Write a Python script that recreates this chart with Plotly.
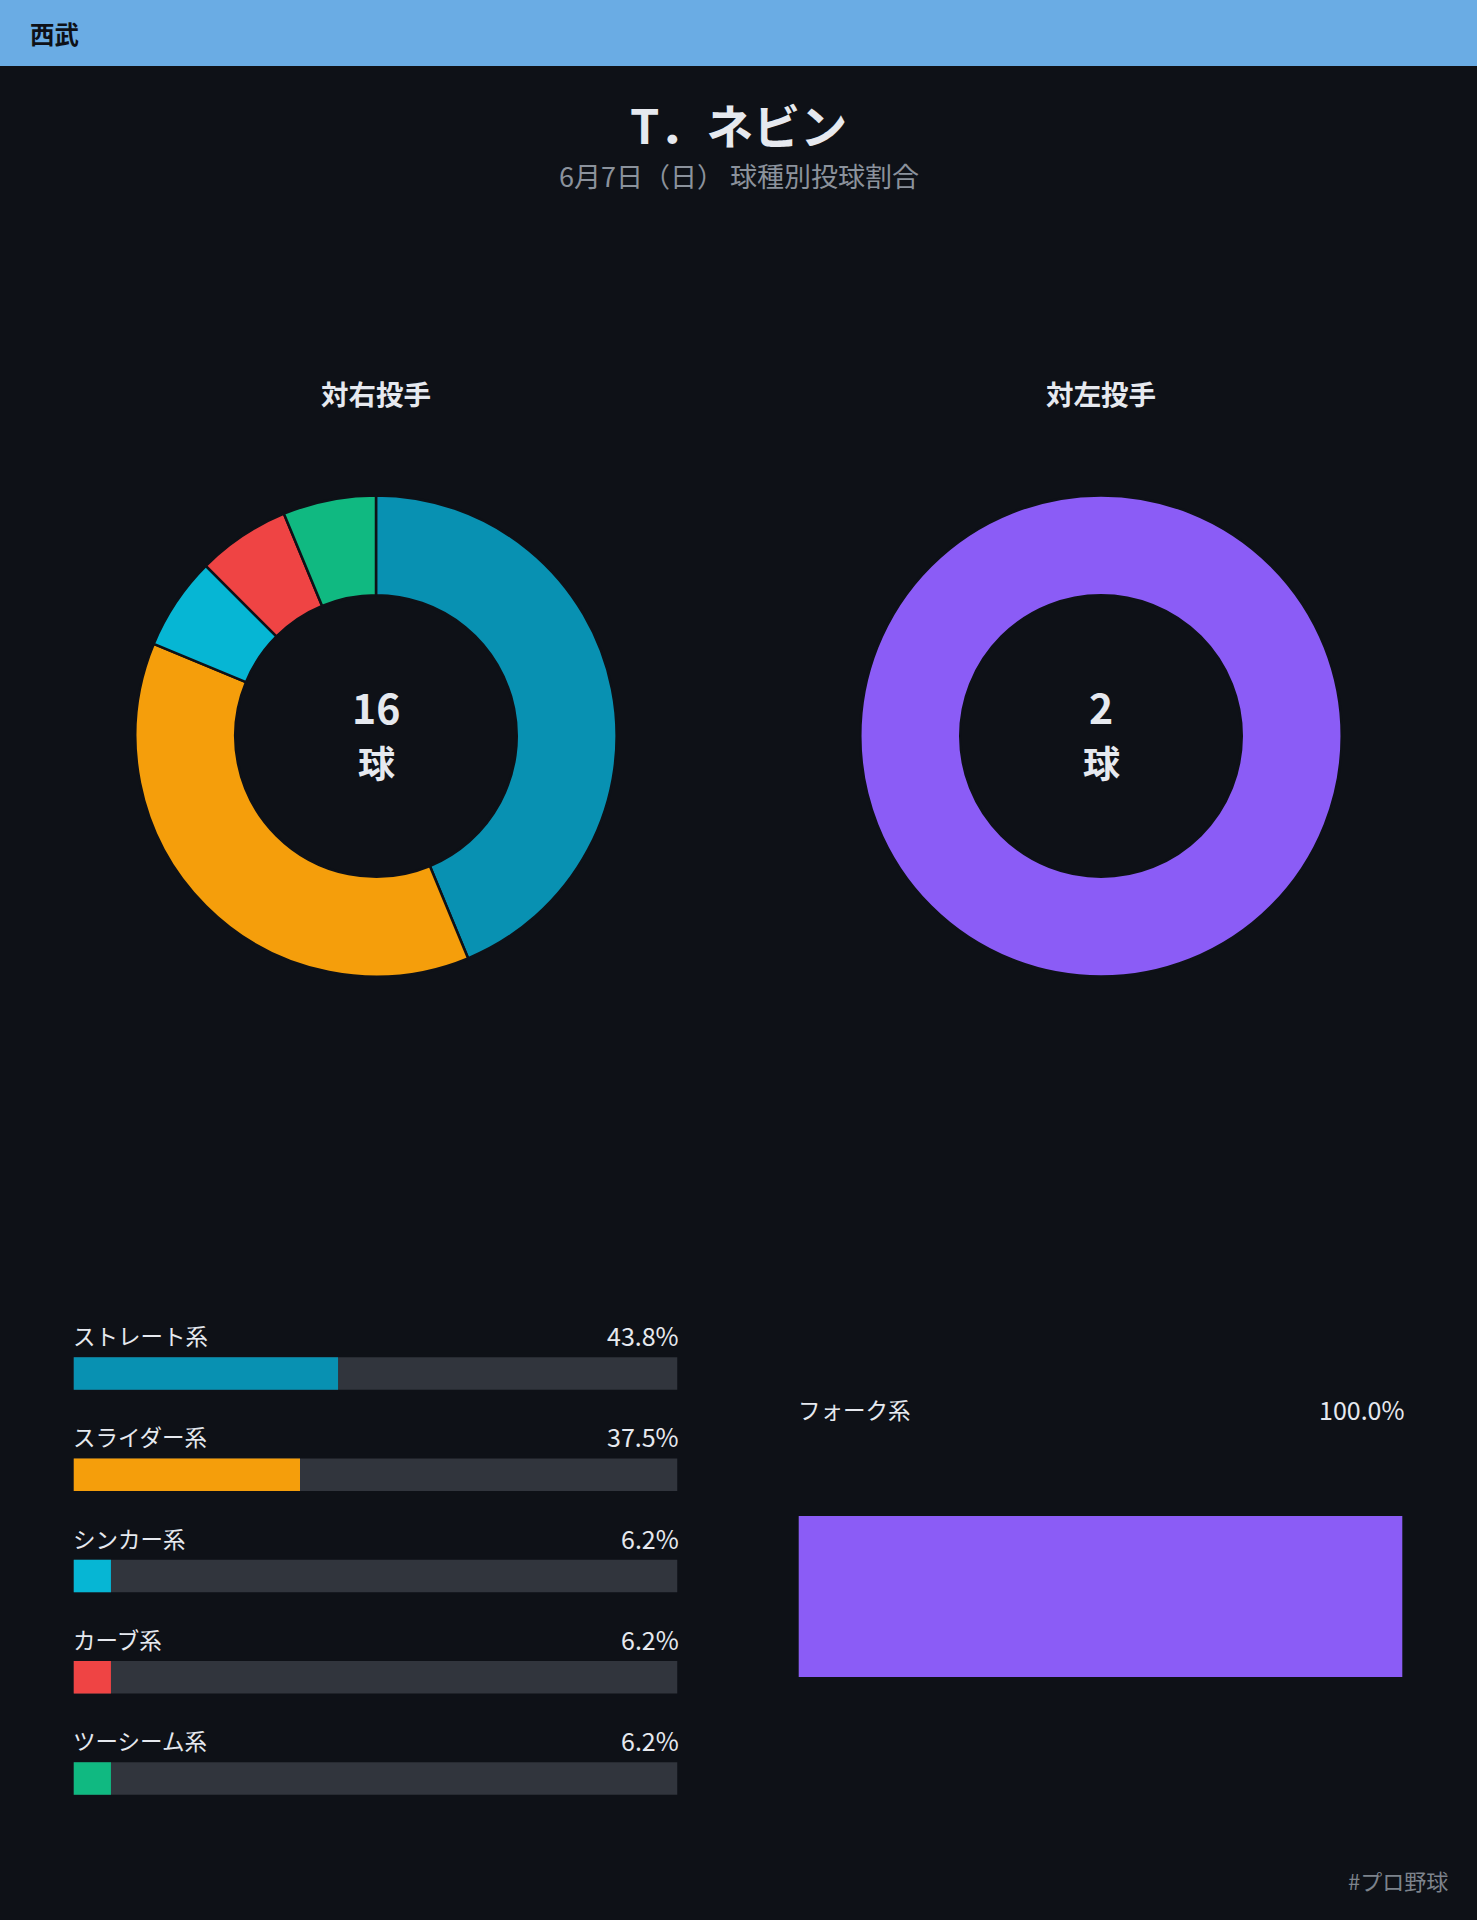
import plotly.graph_objects as go

W, H = 1477, 1920
BG = "#0e1117"
HEADER = "#6aace4"
TEXT = "#e6e9ef"
SUB = "#8b929c"
TRACK = "#31353d"
FONT = "Noto Sans CJK JP"

team = "西武"
player = "T．ネビン"
subtitle = "6月7日（日） 球種別投球割合"
footer = "#プロ野球"

right_title = "対右投手"
right_types = ["ストレート系", "スライダー系", "シンカー系", "カーブ系", "ツーシーム系"]
right_counts = [7, 6, 1, 1, 1]
right_pct = [43.8, 37.5, 6.2, 6.2, 6.2]
right_colors = ["#0891b2", "#f59e0b", "#06b6d4", "#ef4444", "#10b981"]

left_title = "対左投手"
left_types = ["フォーク系"]
left_counts = [2]
left_pct = [100.0]
left_colors = ["#8b5cf6"]


def px_y(py):
    return 1 - py / H


def px_x(px):
    return px / W


fig = go.Figure()

# Donuts
R = 240.6
for cx, labels, vals, cols in [(376, right_types, right_counts, right_colors),
                               (1101, left_types, left_counts, left_colors)]:
    fig.add_trace(go.Pie(
        labels=labels, values=vals, hole=0.585, sort=False, direction="clockwise",
        rotation=0, textinfo="none", hoverinfo="label+percent",
        marker=dict(colors=cols, line=dict(color=BG, width=2.5)),
        domain=dict(x=[px_x(cx - R), px_x(cx + R)], y=[px_y(736 + R), px_y(736 - R)]),
        showlegend=False,
    ))

# Left bar panel (対右投手)
SPACING = 101.25
T, B = 1290, 1840
c0 = 1373.5
vtop = -(c0 - T) / SPACING
vbot = vtop + (B - T) / SPACING
pos = list(range(len(right_types)))
bw = 32.5 / SPACING

fig.add_trace(go.Bar(x=[100] * len(pos), y=pos, orientation="h", width=bw,
                     marker=dict(color=TRACK, line=dict(width=0)), xaxis="x", yaxis="y",
                     hoverinfo="skip", showlegend=False))
fig.add_trace(go.Bar(x=right_pct, y=pos, orientation="h", width=bw,
                     marker=dict(color=right_colors, line=dict(width=0)), xaxis="x", yaxis="y",
                     showlegend=False))

# Right bar panel (対左投手)
T2, B2 = 1380, 1813
fig.add_trace(go.Bar(x=[100], y=[0], orientation="h", width=161 / (B2 - T2),
                     marker=dict(color=TRACK, line=dict(width=0)), xaxis="x2", yaxis="y2",
                     hoverinfo="skip", showlegend=False))
fig.add_trace(go.Bar(x=left_pct, y=[0], orientation="h", width=161 / (B2 - T2),
                     marker=dict(color=left_colors, line=dict(width=0)), xaxis="x2", yaxis="y2",
                     showlegend=False))

LBL = 22.5
PCT = 25
ann = []
for i, (lab, p) in enumerate(zip(right_types, right_pct)):
    ann.append(dict(xref="x", yref="y", x=0, y=i, yshift=38.5, xshift=-3, text=lab, showarrow=False,
                    xanchor="left", yanchor="middle", font=dict(size=LBL, color=TEXT, family=FONT)))
    ann.append(dict(xref="x", yref="y", x=100, y=i, yshift=38.5, xshift=3, text=f"{p:.1f}%", showarrow=False,
                    xanchor="right", yanchor="middle", font=dict(size=PCT, color=TEXT, family=FONT)))
for i, (lab, p) in enumerate(zip(left_types, left_pct)):
    ann.append(dict(xref="x2", yref="y2", x=0, y=i, yshift=187.5, xshift=-3, text=lab, showarrow=False,
                    xanchor="left", yanchor="middle", font=dict(size=LBL, color=TEXT, family=FONT)))
    ann.append(dict(xref="x2", yref="y2", x=100, y=i, yshift=187.5, xshift=3, text=f"{p:.1f}%", showarrow=False,
                    xanchor="right", yanchor="middle", font=dict(size=PCT, color=TEXT, family=FONT)))

# Texts
ann += [
    dict(xref="paper", yref="paper", x=px_x(28), y=px_y(33), text=f"<b>{team}</b>", showarrow=False,
         xanchor="left", yanchor="middle", font=dict(size=24.5, color="#0e1117", family=FONT)),
    dict(xref="paper", yref="paper", x=0.5, y=px_y(123), text=f"<b>{player}</b>", showarrow=False,
         xanchor="center", yanchor="middle", font=dict(size=47, color=TEXT, family=FONT)),
    dict(xref="paper", yref="paper", x=0.5, y=px_y(175), text=subtitle, showarrow=False,
         xanchor="center", yanchor="middle", font=dict(size=27, color=SUB, family=FONT)),
    dict(xref="paper", yref="paper", x=px_x(376), y=px_y(393), text=f"<b>{right_title}</b>", showarrow=False,
         xanchor="center", yanchor="middle", font=dict(size=27.5, color=TEXT, family=FONT)),
    dict(xref="paper", yref="paper", x=px_x(1101), y=px_y(393), text=f"<b>{left_title}</b>", showarrow=False,
         xanchor="center", yanchor="middle", font=dict(size=27.5, color=TEXT, family=FONT)),
    dict(xref="paper", yref="paper", x=px_x(1450), y=px_y(1880), text=footer, showarrow=False,
         xanchor="right", yanchor="middle", font=dict(size=22, color="#7d838c", family=FONT)),
]
for cx, n in [(376, sum(right_counts)), (1101, sum(left_counts))]:
    ann.append(dict(xref="paper", yref="paper", x=px_x(cx), y=px_y(706), text=f"<b>{n}</b>", showarrow=False,
                    xanchor="center", yanchor="middle", font=dict(size=41, color=TEXT, family=FONT)))
    ann.append(dict(xref="paper", yref="paper", x=px_x(cx), y=px_y(762), text="<b>球</b>", showarrow=False,
                    xanchor="center", yanchor="middle", font=dict(size=37, color=TEXT, family=FONT)))

axis_common = dict(showgrid=False, zeroline=False, showticklabels=False, showline=False, fixedrange=True)
fig.update_layout(
    width=W, height=H, margin=dict(l=0, r=0, t=0, b=0),
    paper_bgcolor=BG, plot_bgcolor=BG, barmode="overlay",
    font=dict(family=FONT, color=TEXT),
    xaxis=dict(domain=[px_x(73.5), px_x(677.5)], range=[0, 100], **axis_common),
    yaxis=dict(domain=[px_y(B), px_y(T)], range=[vbot, vtop], **axis_common),
    xaxis2=dict(domain=[px_x(798.5), px_x(1402.5)], range=[0, 100], anchor="y2", **axis_common),
    yaxis2=dict(domain=[px_y(B2), px_y(T2)], range=[0.5, -0.5], anchor="x2", **axis_common),
    shapes=[dict(type="rect", xref="paper", yref="paper", x0=0, x1=1, y0=px_y(66), y1=1,
                 fillcolor=HEADER, line=dict(width=0), layer="below")],
    annotations=ann,
)

fig.write_html("out.html")
